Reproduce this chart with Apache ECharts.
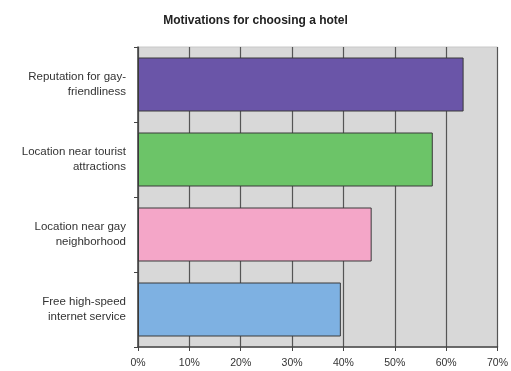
<!DOCTYPE html>
<html><head><meta charset="utf-8">
<script src="https://cdn.jsdelivr.net/npm/echarts@6/dist/echarts.min.js"></script>
<style>html,body{margin:0;padding:0;background:#fff}#c{width:511px;height:371px}</style>
</head><body><div id="c"></div>
<script>
const categories = ["Reputation for gay-\nfriendliness", "Location near tourist\nattractions", "Location near gay\nneighborhood", "Free high-speed\ninternet service"];
const values = [63.4, 57.4, 45.5, 39.5];
const barColors = ["#6a55a8", "#6cc468", "#f4a6c8", "#7eb1e2"];
const tickLabels = ["0%", "10%", "20%", "30%", "40%", "50%", "60%", "70%"];

const chart = echarts.init(document.getElementById('c'));
chart.setOption({
  animation: false,
  backgroundColor: '#fff',
  title: {
    text: 'Motivations for choosing a hotel',
    left: 'center', top: 10,
    textStyle: {fontFamily: 'Liberation Sans', fontSize: 12, fontWeight: 'bold', color: '#222'}
  },
  grid: {left: 138, right: 10, top: 47, bottom: 24, show: true, backgroundColor: '#d8d8d8', borderColor: '#c8c8c8', borderWidth: 1},
  xAxis: {
    type: 'value', min: 0, max: 70, interval: 10,
    axisLine: {show: true, lineStyle: {color: '#444', width: 1.5}},
    axisTick: {show: true, length: 4, lineStyle: {color: '#444'}},
    splitLine: {show: true, lineStyle: {color: '#555', width: 1.2}},
    axisLabel: {color: '#333', fontFamily: 'Liberation Sans', fontSize: 10.5, margin: 11,
      formatter: function(v){ return tickLabels[Math.round(v/10)]; }}
  },
  yAxis: {
    type: 'category', data: categories, inverse: true,
    axisLine: {show: true, lineStyle: {color: '#444', width: 1.5}},
    axisTick: {show: true, length: 4, lineStyle: {color: '#444'}},
    axisLabel: {color: '#333', fontFamily: 'Liberation Sans', fontSize: 11.5, lineHeight: 15, margin: 12, align: 'right'}
  },
  series: [{
    type: 'bar',
    data: values.map((v, i) => ({value: v, itemStyle: {color: barColors[i]}})),
    barWidth: '72%',
    itemStyle: {borderColor: '#3a3a3a', borderWidth: 1}
  }]
});
</script></body></html>
